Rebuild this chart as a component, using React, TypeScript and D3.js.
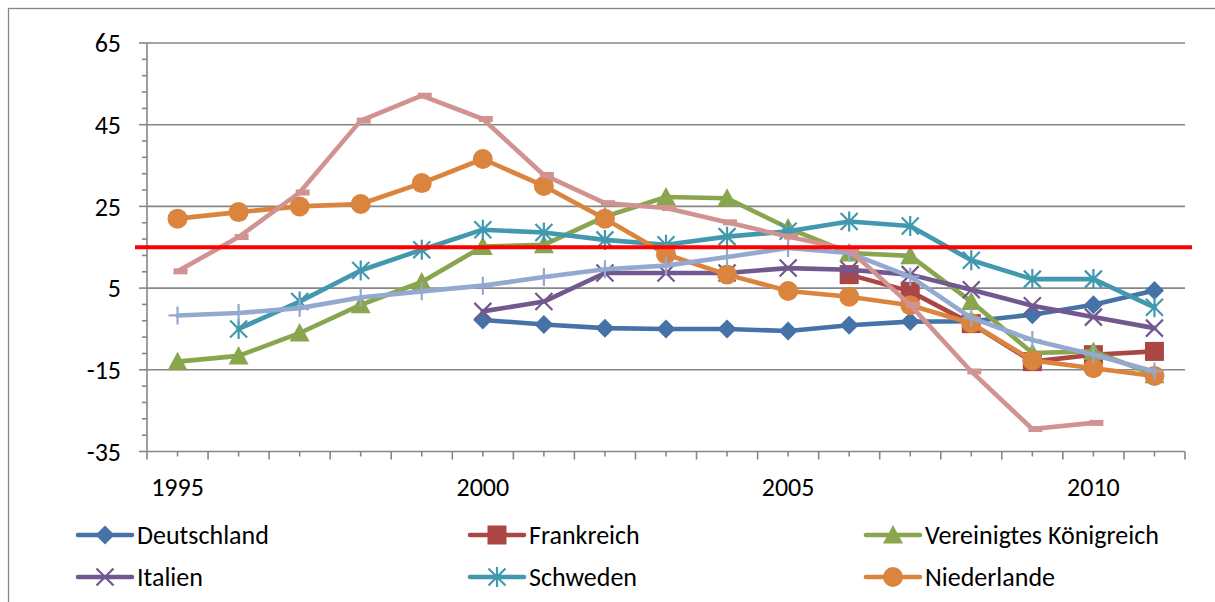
import React from "react";
import * as d3 from "d3";

const years = [1995, 1996, 1997, 1998, 1999, 2000, 2001, 2002, 2003, 2004, 2005, 2006, 2007, 2008, 2009, 2010, 2011];
const yTickValues = [-35, -15, 5, 25, 45, 65];
const xLabelYears = [1995, 2000, 2005, 2010];
const referenceValue = 15;

const deutschland = [null, null, null, null, null, -2.8, -3.9, -4.8, -5.0, -5.0, -5.5, -4.1, -3.2, -3.1, -1.5, 0.9, 4.4];
const frankreich = [null, null, null, null, null, null, null, null, null, null, null, 8.3, 4.2, -3.7, -13.0, -11.3, -10.5];
const vereinigtesKoenigreich = [-13.0, -11.6, -6.0, 0.9, 6.5, 15.2, 15.6, 22.5, 27.3, 27.0, 19.7, 13.6, 12.9, 1.7, -10.9, -10.5, -16.2];
const italien = [null, null, null, null, null, -0.7, 1.7, 8.7, 8.7, 8.7, 9.9, 9.5, 8.3, 4.6, 0.7, -2.1, -4.8];
const schweden = [null, -5.0, 1.7, 9.3, 14.4, 19.3, 18.6, 16.8, 15.6, 17.6, 18.9, 21.3, 20.2, 11.8, 7.2, 7.2, 0.3];
const niederlande = [22.0, 23.6, 25.0, 25.6, 30.7, 36.6, 30.0, 22.0, 13.3, 8.3, 4.3, 2.9, 0.8, -3.6, -12.7, -14.6, -16.5];
const serie7 = [-1.7, -1.1, 0.1, 2.7, 4.2, 5.6, 7.7, 9.6, 10.5, 12.6, 14.8, 13.6, 7.8, -2.3, -7.7, -11.3, -15.4];
const serie8 = [9.1, 17.5, 28.4, 46.0, 52.1, 46.4, 32.7, 25.8, 24.6, 21.1, 17.6, 14.4, 0.9, -15.4, -29.5, -28.0, null];

const seriesNames = ["Deutschland", "Frankreich", "Vereinigtes Königreich", "Italien", "Schweden", "Niederlande", "Serie 7", "Serie 8"];
const seriesColors = ["#4572A7", "#AA4643", "#89A54E", "#71588F", "#4198AF", "#DB843D", "#93A9CF", "#D19392"];
const seriesMarkers = ["diamond", "square", "triangle", "x", "star", "circle", "plus", "dash"];
const seriesValues = [deutschland, frankreich, vereinigtesKoenigreich, italien, schweden, niederlande, serie7, serie8];
const legendCount = 6;

const FONT = "Carlito, Calibri, Lato, sans-serif";
const FONT_SIZE = 26;
const AXIS = "#868686";

function Marker({ type, cx, cy, color }: { type: string; cx: number; cy: number; color: string }) {
  const s = 9.5;
  switch (type) {
    case "diamond":
      return <path d={`M${cx},${cy - s} L${cx + s},${cy} L${cx},${cy + s} L${cx - s},${cy} Z`} fill={color} />;
    case "square":
      return <rect x={cx - 9.5} y={cy - 9.5} width={19} height={19} fill={color} />;
    case "triangle":
      return <path d={`M${cx},${cy - 10} L${cx + 10},${cy + 8.5} L${cx - 10},${cy + 8.5} Z`} fill={color} />;
    case "circle":
      return <circle cx={cx} cy={cy} r={10} fill={color} />;
    case "x":
      return (
        <path d={`M${cx - 8.5},${cy - 8.5} L${cx + 8.5},${cy + 8.5} M${cx - 8.5},${cy + 8.5} L${cx + 8.5},${cy - 8.5}`} stroke={color} strokeWidth={2.2} fill="none" />
      );
    case "star":
      return (
        <path
          d={`M${cx - 8.5},${cy - 8.5} L${cx + 8.5},${cy + 8.5} M${cx - 8.5},${cy + 8.5} L${cx + 8.5},${cy - 8.5} M${cx},${cy - 10} L${cx},${cy + 10}`}
          stroke={color}
          strokeWidth={2.2}
          fill="none"
        />
      );
    case "plus":
      return <path d={`M${cx},${cy - 9} L${cx},${cy + 9} M${cx - 9},${cy} L${cx + 9},${cy}`} stroke={color} strokeWidth={2.2} fill="none" />;
    case "dash":
      return <rect x={cx - 4} y={cy - 3} width={14} height={6} fill={color} />;
    default:
      return null;
  }
}

export default function App() {
  const width = 1215;
  const height = 602;
  const x = d3.scaleLinear().domain([1994.5, 2011.5]).range([147, 1185]);
  const y = d3.scaleLinear().domain([-35, 65]).range([451.5, 43]);

  const minorY = d3.range(-35, 66, 4);
  const majorX = d3.range(1994.5, 2012, 1);

  const line = d3
    .line<number | null>()
    .defined((d) => d != null)
    .x((_, i) => x(years[i]))
    .y((d) => y(d as number));

  const legendCols = [78, 470, 866];
  const legendRows = [535, 577];

  return (
    <div style={{ position: "absolute", left: 0, top: 0 }}>
      <svg width={width} height={height} style={{ display: "block" }}>
        <rect x={0} y={0} width={width} height={height} fill="#fff" />
        <rect x={8.5} y={8.5} width={width + 20} height={height + 20} fill="none" stroke={AXIS} strokeWidth={1.3} />

        {/* gridlines */}
        {yTickValues
          .filter((v) => v !== -35)
          .map((v) => (
            <line key={"g" + v} x1={x.range()[0]} x2={x.range()[1]} y1={y(v)} y2={y(v)} stroke={AXIS} strokeWidth={1.6} />
          ))}

        {/* y axis */}
        <line x1={x.range()[0]} x2={x.range()[0]} y1={y(65)} y2={y(-35)} stroke={AXIS} strokeWidth={1.6} />
        {minorY.map((v) => (
          <line
            key={"ym" + v}
            x1={x.range()[0] - ((v + 35) % 20 === 0 ? 8 : 5)}
            x2={x.range()[0]}
            y1={y(v)}
            y2={y(v)}
            stroke={AXIS}
            strokeWidth={1.6}
          />
        ))}
        {yTickValues.map((v) => (
          <text key={"yl" + v} x={121} y={y(v)} dy="0.35em" textAnchor="end" fontFamily={FONT} fontSize={FONT_SIZE} fill="#000">
            {v}
          </text>
        ))}

        {/* x axis */}
        <line x1={x.range()[0]} x2={x.range()[1]} y1={y(-35)} y2={y(-35)} stroke={AXIS} strokeWidth={1.6} />
        {majorX.map((v) => (
          <line key={"xM" + v} x1={x(v)} x2={x(v)} y1={y(-35)} y2={y(-35) + 8} stroke={AXIS} strokeWidth={1.6} />
        ))}
        {years.map((v) => (
          <line key={"xm" + v} x1={x(v)} x2={x(v)} y1={y(-35)} y2={y(-35) + 5} stroke={AXIS} strokeWidth={1.6} />
        ))}
        {xLabelYears.map((v) => (
          <text key={"xl" + v} x={x(v)} y={487} dy="0.35em" textAnchor="middle" fontFamily={FONT} fontSize={FONT_SIZE} fill="#000">
            {v}
          </text>
        ))}

        {/* series */}
        {seriesValues.map((vals, si) => (
          <g key={"s" + si}>
            <path d={line(vals) || ""} fill="none" stroke={seriesColors[si]} strokeWidth={4.6} strokeLinejoin="round" strokeLinecap="round" />
            {vals.map((v, i) =>
              v == null ? null : <Marker key={i} type={seriesMarkers[si]} cx={x(years[i])} cy={y(v)} color={seriesColors[si]} />
            )}
          </g>
        ))}

        {/* reference line */}
        <line x1={135} x2={1192} y1={y(referenceValue)} y2={y(referenceValue)} stroke="#FF0000" strokeWidth={4} />

        {/* legend */}
        {seriesNames.slice(0, legendCount).map((name, i) => {
          const lx = legendCols[i % 3];
          const ly = legendRows[Math.floor(i / 3)];
          return (
            <g key={"lg" + i}>
              <line x1={lx} x2={lx + 54} y1={ly} y2={ly} stroke={seriesColors[i]} strokeWidth={4.6} strokeLinecap="round" />
              <Marker type={seriesMarkers[i]} cx={lx + 27} cy={ly} color={seriesColors[i]} />
              <text x={lx + 59} y={ly} dy="0.35em" fontFamily={FONT} fontSize={FONT_SIZE} fill="#000">
                {name}
              </text>
            </g>
          );
        })}
      </svg>
    </div>
  );
}
